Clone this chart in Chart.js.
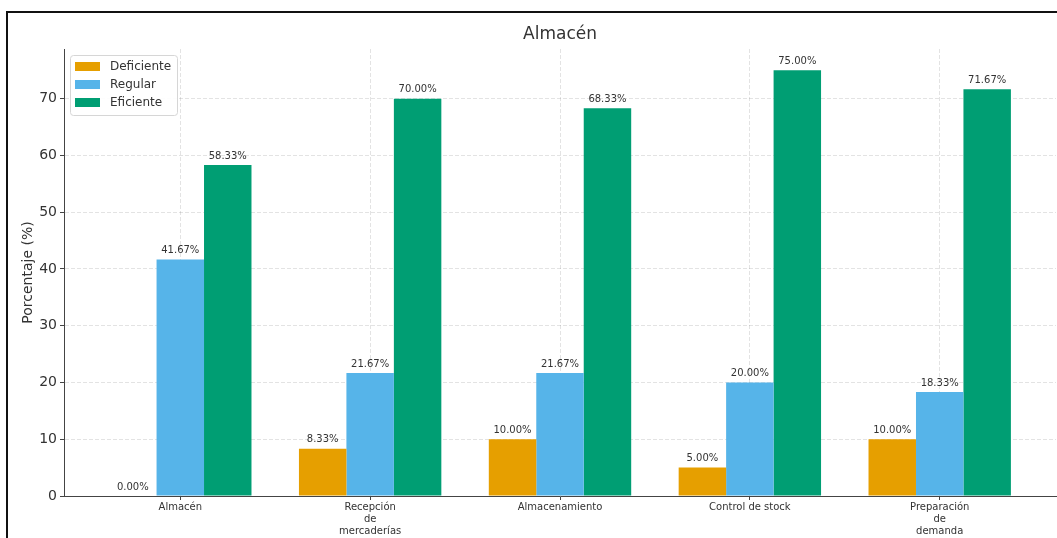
<!DOCTYPE html>
<html>
<head>
<meta charset="utf-8">
<script src="https://cdn.jsdelivr.net/npm/chart.js@4.4.1/dist/chart.umd.min.js"></script>
<style>
  html, body { margin: 0; padding: 0; background: #fff; }
  #wrap { position: relative; width: 1057px; height: 538px; }
  #frame { position: absolute; left: 6px; top: 11px; right: -4px; bottom: -4px;
           border-top: 2px solid #111; border-left: 2px solid #111; pointer-events: none; }
</style>
</head>
<body>
<div id="wrap">
  <canvas id="chart" width="1057" height="538"></canvas>
  <div id="frame"></div>
</div>
<script>
const categories = [
    ["Almacén"],
    ["Recepción", "de", "mercaderías"],
    ["Almacenamiento"],
    ["Control de stock"],
    ["Preparación", "de", "demanda"]
];
const seriesNames = ["Deficiente", "Regular", "Eficiente"];
const deficiente = [0.00, 8.33, 10.00, 5.00, 10.00];
const regular = [41.67, 21.67, 21.67, 20.00, 18.33];
const eficiente = [58.33, 70.00, 68.33, 75.00, 71.67];
const yTicks = [0, 10, 20, 30, 40, 50, 60, 70];

const colors = ["#E69F00", "#56B4E9", "#009E73"];
const FONT = "'DejaVu Sans', sans-serif";

function toPoints(values) {
    return values.map((v, i) => ({ x: i, y: v }));
}

// value labels above each bar
const barLabels = {
    id: 'barLabels',
    afterDatasetsDraw(chart) {
        const ctx = chart.ctx;
        ctx.save();
        ctx.font = "10px " + FONT;
        ctx.fillStyle = "#333";
        ctx.textAlign = "center";
        ctx.textBaseline = "bottom";
        chart.data.datasets.forEach((ds, di) => {
            chart.getDatasetMeta(di).data.forEach((bar, i) => {
                ctx.fillText(ds.data[i].y.toFixed(2) + "%", bar.x, bar.y - 4);
            });
        });
        ctx.restore();
    }
};

// title centred over the plot area
const plotTitle = {
    id: 'plotTitle',
    afterDraw(chart) {
        const ctx = chart.ctx;
        const area = chart.chartArea;
        ctx.save();
        ctx.font = "17px " + FONT;
        ctx.fillStyle = "#333";
        ctx.textAlign = "center";
        ctx.textBaseline = "middle";
        ctx.fillText("Almacén", (area.left + area.right) / 2, 35);
        ctx.restore();
    }
};

// boxed legend in the upper left corner of the plot
const innerLegend = {
    id: 'innerLegend',
    afterDraw(chart) {
        const ctx = chart.ctx;
        const x = 70, y = 55, w = 107, h = 60;
        ctx.save();
        ctx.fillStyle = "rgba(255,255,255,0.9)";
        ctx.strokeStyle = "#d6d6d6";
        ctx.lineWidth = 1;
        ctx.beginPath();
        ctx.roundRect(x + 0.5, y + 0.5, w, h, 3);
        ctx.fill();
        ctx.stroke();
        ctx.font = "12px " + FONT;
        ctx.textBaseline = "middle";
        chart.data.datasets.forEach((ds, i) => {
            const ry = y + 11 + i * 18;
            ctx.fillStyle = ds.backgroundColor;
            ctx.fillRect(x + 5, ry - 4, 25, 9);
            ctx.fillStyle = "#333";
            ctx.fillText(ds.label, x + 40, ry + 1);
        });
        ctx.restore();
    }
};

new Chart(document.getElementById("chart"), {
    type: 'bar',
    data: {
        datasets: [
            { label: seriesNames[0], data: toPoints(deficiente), backgroundColor: colors[0] },
            { label: seriesNames[1], data: toPoints(regular), backgroundColor: colors[1] },
            { label: seriesNames[2], data: toPoints(eficiente), backgroundColor: colors[2] }
        ]
    },
    options: {
        responsive: false,
        animation: false,
        layout: { padding: { top: 49, right: 1, left: 0, bottom: 0 } },
        datasets: { bar: { categoryPercentage: 0.75, barPercentage: 1.0, borderWidth: 0 } },
        plugins: {
            legend: { display: false },
            title: { display: false },
            tooltip: { enabled: false }
        },
        scales: {
            x: {
                type: 'linear',
                offset: false,
                min: -0.6125,
                max: 4.6125,
                afterBuildTicks: s => { s.ticks = categories.map((c, i) => ({ value: i })); },
                afterFit: s => { s.height = 42; },
                ticks: {
                    callback: (v) => categories[v],
                    font: { family: FONT, size: 10 },
                    color: "#333",
                    padding: 1,
                    maxRotation: 0,
                    autoSkip: false
                },
                grid: {
                    offset: false,
                    color: "rgba(0,0,0,0.11)",
                    tickLength: 4,
                    tickColor: "#444"
                },
                border: { color: "#444", width: 1, dash: [4, 2] }
            },
            y: {
                min: 0,
                max: 78.75,
                afterBuildTicks: s => { s.ticks = yTicks.map(v => ({ value: v })); },
                afterFit: s => { s.width = 64; },
                ticks: {
                    font: { family: FONT, size: 14 },
                    color: "#333",
                    padding: 3
                },
                title: {
                    display: true,
                    text: "Porcentaje (%)",
                    font: { family: FONT, size: 14 },
                    color: "#333",
                    padding: { top: 20, bottom: 0 }
                },
                grid: {
                    color: "rgba(0,0,0,0.11)",
                    tickLength: 4,
                    tickColor: "#444"
                },
                border: { color: "#444", width: 1, dash: [4, 2] }
            }
        }
    },
    plugins: [barLabels, plotTitle, innerLegend]
});
</script>
</body>
</html>
